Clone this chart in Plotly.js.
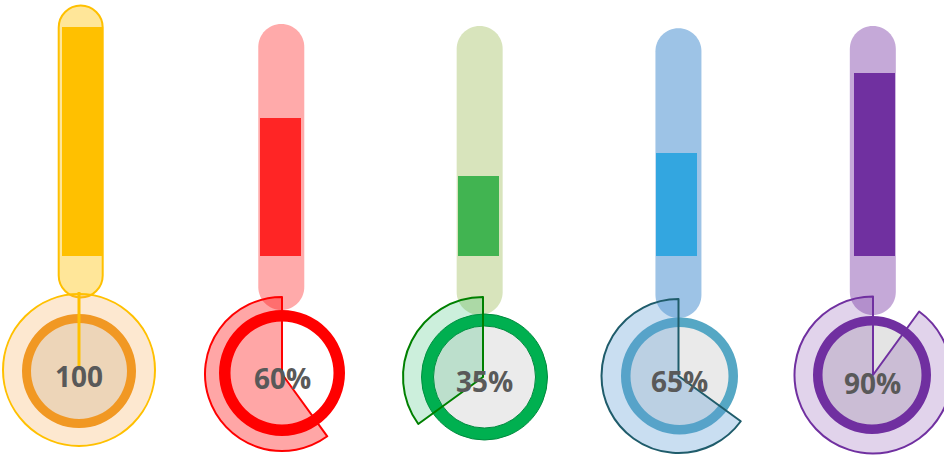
<!DOCTYPE html>
<html><head><meta charset="utf-8">
<script src="https://cdn.plot.ly/plotly-3.0.1.min.js"></script>
<style>html,body{margin:0;padding:0;overflow:hidden;background:#fff}#chart{width:960px;height:457px}</style>
</head><body><div id="chart"></div>
<script>
// ---------- data ----------
const labels = ['100', '60%', '35%', '65%', '90%'];
const gaugeValues = [100, 60, 35, 65, 90];
const barValues = [100, 60, 35, 45, 80];
const slots = [0, 1, 2, 3, 4];

// ---------- styles ----------
const barColors = ['#FFC000', '#FF2525', '#41B451', '#33A6E0', '#7030A0'];
const tubeColors = ['#FFE699', '#FFAAAA', '#D8E4BC', '#9DC3E6', '#C5A9D8'];
const tubeEdge = ['#FFC000', null, null, null, null];
const ringColors = ['#EF961C', '#FF0000', '#00B050', '#55A7C4', '#7030A0'];
const ringEdge = [null, null, '#008A3E', null, null];
const sectorFills = ['rgba(247,160,60,0.24)', 'rgba(255,0,0,0.35)', 'rgba(0,176,80,0.2)', 'rgba(91,155,213,0.33)', 'rgba(112,48,160,0.21)'];
const sectorLines = ['#FFC000', '#FF0000', '#008000', '#1F5C6B', '#7030A0'];
const innerFills = ['#EAE6E0', null, '#EBEBEB', '#EAEAEA', '#E4E4E4'];

// ---------- layout geometry (pixels) ----------
const W = 960, H = 457;
const barCenter0 = 82.2, slotGap = 198.08, zeroPx = 256, hundredPx = 26.7, barWidthPx = 41;
const tubeDx = [-1.5, 1, 1.3, 2, -1.7];
const tubeTop = [250.5, 232, 230, 227.7, 230];
const tubeBottom = [-41.5, -54, -59, -62, -59];
const tubeHalf = 23;
const sectorGeo = [[79, 370, 76], [282, 374, 77], [483, 377, 80], [678.5, 376, 77], [873, 375, 78.5]];
const ringGeo = [[79, 371, 57, 48], [282, 373, 63, 51.5], [484.5, 377, 63, 51], [679.5, 376, 58.5, 49], [872, 375, 59, 49.5]];
const textPos = [[79, 376], [282, 378], [484, 381], [679, 381], [872, 382.5]];

function dom(cx, cy, r) {
  return {
    x: [Math.max(0, (cx - r) / W), Math.min(1, (cx + r) / W)],
    y: [Math.max(0, (H - cy - r) / H), Math.min(1, (H - cy + r) / H)]
  };
}
function stadium(dx, top, bottom, r) {
  const k = 0.5523 * r;
  const bt = top - r, bb = bottom + r;
  return `M ${dx - r},${bt} C ${dx - r},${bt + k} ${dx - k},${top} ${dx},${top} ` +
    `C ${dx + k},${top} ${dx + r},${bt + k} ${dx + r},${bt} L ${dx + r},${bb} ` +
    `C ${dx + r},${bb - k} ${dx + k},${bottom} ${dx},${bottom} ` +
    `C ${dx - k},${bottom} ${dx - r},${bb - k} ${dx - r},${bb} Z`;
}

const traces = [{
  type: 'bar', x: slots, y: barValues, width: barWidthPx / slotGap,
  marker: { color: barColors, line: { width: 0 } }, hoverinfo: 'skip', showlegend: false
}];

const pieBase = { type: 'pie', sort: false, textinfo: 'none', hoverinfo: 'skip', showlegend: false, rotation: 0 };

slots.forEach(i => {
  if (innerFills[i]) {
    const g = ringGeo[i];
    traces.push(Object.assign({}, pieBase, {
      values: [1], domain: dom(g[0], g[1], g[3] + 0.5),
      marker: { colors: [innerFills[i]], line: { width: 0 } }
    }));
  }
});
slots.forEach(i => {
  const g = ringGeo[i];
  traces.push(Object.assign({}, pieBase, {
    values: [1], hole: g[3] / g[2], domain: dom(g[0], g[1], g[2]),
    marker: { colors: [ringColors[i]], line: { color: ringEdge[i] || ringColors[i], width: ringEdge[i] ? 1 : 0 } }
  }));
});
// sectors: the value share starts at 12 o'clock and sweeps to the left
slots.forEach(i => {
  const g = sectorGeo[i];
  traces.push(Object.assign({}, pieBase, {
    direction: 'clockwise',
    values: [100 - gaugeValues[i], gaugeValues[i]], domain: dom(g[0], g[1], g[2]),
    marker: { colors: ['rgba(0,0,0,0)', sectorFills[i]], line: { color: ['rgba(0,0,0,0)', sectorLines[i]], width: [0, 2] } }
  }));
});

const shapes = slots.map(i => ({
  type: 'path', xref: 'x', yref: 'y', xsizemode: 'pixel', ysizemode: 'pixel',
  xanchor: i, yanchor: 0, layer: 'below',
  path: stadium(tubeDx[i], tubeTop[i], tubeBottom[i], tubeHalf - (tubeEdge[i] ? 1 : 0)),
  fillcolor: tubeColors[i], line: { color: tubeEdge[i] || tubeColors[i], width: tubeEdge[i] ? 2 : 0 }
}));
// needle of the full (100) gauge
shapes.push({
  type: 'line', xref: 'paper', yref: 'paper', layer: 'above',
  x0: sectorGeo[0][0] / W, x1: sectorGeo[0][0] / W,
  y0: (H - 292) / H, y1: (H - 367) / H,
  line: { color: '#FFC000', width: 3 }
});

const annotations = slots.map(i => ({
  xref: 'paper', yref: 'paper', x: textPos[i][0] / W, y: (H - textPos[i][1]) / H,
  text: labels[i], showarrow: false, xanchor: 'center', yanchor: 'middle',
  font: { family: 'Open Sans', size: 28, color: '#595959', weight: 700 }
}));

const pxPerUnit = (zeroPx - hundredPx) / 100;
const layout = {
  width: W, height: H, margin: { l: 0, r: 0, t: 0, b: 0 },
  paper_bgcolor: '#ffffff', plot_bgcolor: 'rgba(0,0,0,0)',
  xaxis: { range: [-barCenter0 / slotGap, (W - barCenter0) / slotGap], visible: false, fixedrange: true },
  yaxis: { range: [-(H - zeroPx) / pxPerUnit, zeroPx / pxPerUnit], visible: false, fixedrange: true },
  shapes: shapes, annotations: annotations, showlegend: false, bargap: 0
};

Plotly.newPlot('chart', traces, layout, { staticPlot: true, displayModeBar: false });
</script></body></html>
